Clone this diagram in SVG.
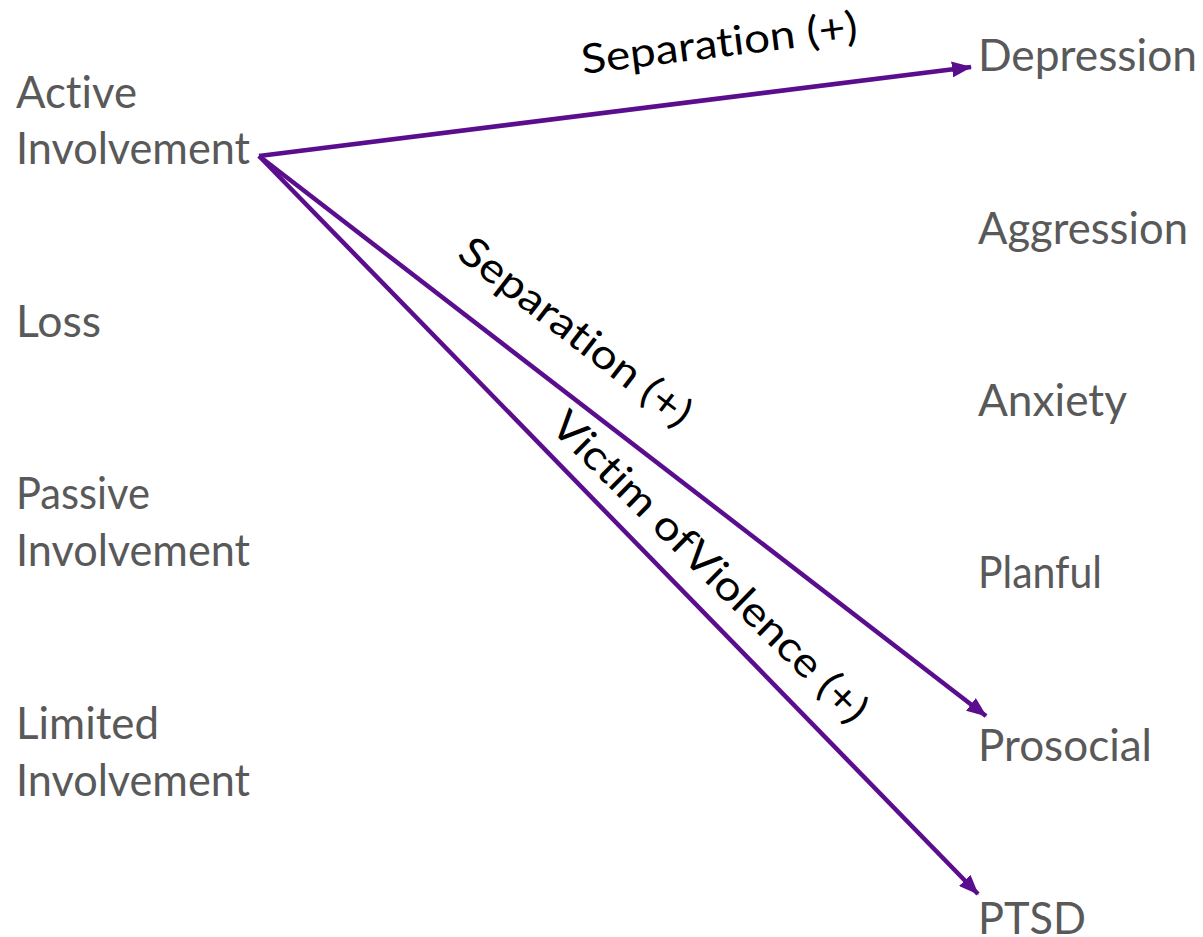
<svg xmlns="http://www.w3.org/2000/svg" width="1203" height="937" viewBox="0 0 1203 937">
<defs>
<style>
.n{font-family:Lato,"Open Sans","Liberation Sans",sans-serif;font-size:44px;fill:#595959;font-variant-ligatures:none}
.l{font-family:Lato,"Open Sans","Liberation Sans",sans-serif;font-size:41px;fill:#000;font-variant-ligatures:none}
.c{stroke:#5A0E8E;stroke-width:4.5;fill:none}
</style>
<marker id="ah" markerUnits="userSpaceOnUse" markerWidth="20" markerHeight="16" viewBox="0 0 20 16" refX="19" refY="8" orient="auto">
<path d="M0,0 L20,8 L0,16 Z" fill="#5A0E8E"/>
</marker>
</defs>
<rect width="1203" height="937" fill="#fff"/>
<g id="active"><text class="n" x="16" y="108" textLength="121" lengthAdjust="spacingAndGlyphs">Active</text><text class="n" x="16" y="164" textLength="234" lengthAdjust="spacingAndGlyphs">Involvement</text></g>
<g id="loss"><text class="n" x="16" y="337" textLength="85" lengthAdjust="spacingAndGlyphs">Loss</text></g>
<g id="passive"><text class="n" x="16" y="509" textLength="134" lengthAdjust="spacingAndGlyphs">Passive</text><text class="n" x="16" y="566" textLength="234" lengthAdjust="spacingAndGlyphs">Involvement</text></g>
<g id="limited"><text class="n" x="16" y="739" textLength="143" lengthAdjust="spacingAndGlyphs">Limited</text><text class="n" x="16" y="796" textLength="234" lengthAdjust="spacingAndGlyphs">Involvement</text></g>
<g id="depression"><text class="n" x="978" y="71" textLength="219" lengthAdjust="spacingAndGlyphs">Depression</text></g>
<g id="aggression"><text class="n" x="978" y="244" textLength="210" lengthAdjust="spacingAndGlyphs">Aggression</text></g>
<g id="anxiety"><text class="n" x="978" y="416" textLength="149" lengthAdjust="spacingAndGlyphs">Anxiety</text></g>
<g id="planful"><text class="n" x="978" y="588" textLength="124" lengthAdjust="spacingAndGlyphs">Planful</text></g>
<g id="prosocial"><text class="n" x="978" y="761" textLength="174" lengthAdjust="spacingAndGlyphs">Prosocial</text></g>
<g id="ptsd"><text class="n" x="978" y="934" textLength="108" lengthAdjust="spacingAndGlyphs">PTSD</text></g>
<g id="connectors">
<line class="c" x1="259" y1="156" x2="971" y2="67" marker-end="url(#ah)"/>
<line class="c" x1="259" y1="156" x2="986" y2="716" marker-end="url(#ah)"/>
<line class="c" x1="259" y1="156" x2="978" y2="894" marker-end="url(#ah)"/>
<text class="l" transform="translate(721,57) rotate(-7)" text-anchor="middle" textLength="278" lengthAdjust="spacingAndGlyphs">Separation (+)</text>
<text class="l" transform="translate(567,343) rotate(37.7)" text-anchor="middle" textLength="282" lengthAdjust="spacingAndGlyphs">Separation (+)</text>
<text class="l" transform="translate(700,577) rotate(44.5)" text-anchor="middle" textLength="425" lengthAdjust="spacingAndGlyphs">Victim ofViolence (+)</text>
</g>
</svg>
